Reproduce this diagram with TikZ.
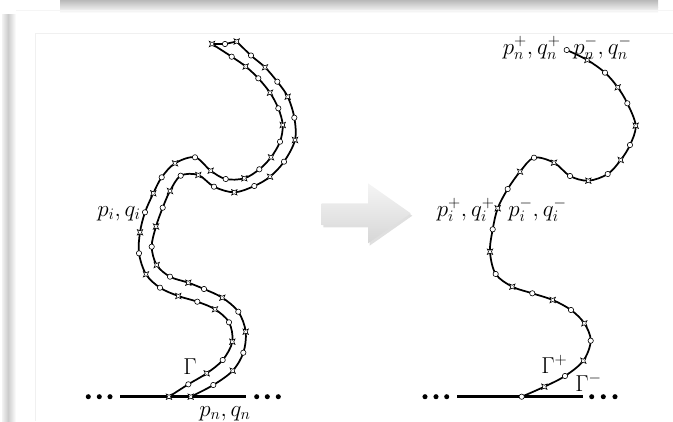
\documentclass[tikz,border=0pt]{standalone}
\usetikzlibrary{shadows}
\begin{document}
\begin{tikzpicture}[x=0.75pt,y=-0.75pt]
\tikzset{
 curve/.style={line width=1.3pt, line join=round},
 circmark/.style={circle, draw, fill=white, line width=0.45pt, inner sep=0pt, minimum size=4pt},
 starmark/.pic={\draw[fill=white, line width=0.45pt, line join=miter] (2.7,2.7) -- (0,1.5) -- (-2.7,2.7) -- (-1.5,0) -- (-2.7,-2.7) -- (0,-1.5) -- (2.7,-2.7) -- (1.5,0) -- cycle;},
 lab/.style={font=\fontsize{17}{20}\selectfont, inner sep=0pt},
 dotmark/.style={circle, fill, inner sep=0pt, minimum size=3.8pt},
 base/.style={line width=2.2pt},
}
\useasboundingbox (0,0) rectangle (673,421);
% screenshot frame artefacts
\shade[top color=gray!55, bottom color=gray!25] (60,0) rectangle (658,7);
\shade[top color=gray!25, bottom color=white] (60,7) rectangle (658,13);
\shade[left color=gray!10, right color=gray!40] (2,14) rectangle (8,421);
\shade[left color=gray!40, right color=white] (8,14) rectangle (16,421);
\draw[gray!12, line width=0.6pt] (35,421) -- (35,33) -- (673,33);
\draw[gray!8, line width=0.6pt] (16,10) -- (673,10);
% arrow
\path[top color=gray!8, bottom color=gray!32, drop shadow={opacity=0.25, shadow xshift=1.2pt, shadow yshift=-1.8pt}]
 (321.7,203.3) -- (368,203.3) -- (368,183.3) -- (410.7,213.3) -- (368,243.3) -- (368,225) -- (321.7,225) -- cycle;
% ---------- left picture ----------
\draw[base] (120,396.7) -- (245.7,396.7);
\foreach \x [count=\i] in {88.3,99.3,110,256.7,267.3,278.3} \node[dotmark] (ld\i) at (\x,396.7) {};
\draw[curve] plot[smooth, tension=0.55] coordinates {(212,44) (231.7,56.7) (245.7,66.5) (258.3,78.3) (270,92.7) (278.3,108.3) (282.7,125) (280,141.7) (271,157.3) (259.3,169.3) (244.3,178.3) (225.7,179) (210.7,170.7) (195,157.3) (175,163.3) (161.7,177.3) (153.3,193.3) (145,212.3) (140,232.3) (139,253.3) (146,274.3) (160,287.7) (178.3,296) (197.3,301.7) (215,309.3) (229,322.3) (232.3,341.7) (222.7,360) (206.7,373.3) (188.3,384.3) (169,396.7)};
\draw[curve] plot[smooth, tension=0.55] coordinates {(236.7,41.5) (251,55.5) (265,67.3) (277.3,81.7) (287.7,96.7) (294.3,117.7) (295,140) (284,161.7) (270,176.7) (254.3,186) (234.3,192.3) (214,186.7) (198.3,175) (180.7,175.7) (170,191) (162.7,207.7) (156,226.5) (151.7,246.7) (156.7,265) (170,276.7) (188.3,282.7) (204,289) (222.3,297.7) (238.3,311.7) (245.7,331.7) (243.3,352.7) (232.7,370.7) (213.3,385) (190.7,396.7)};
\draw[curve] (212,44) -- (225,44) -- (236.7,41.5);
\node[circmark] (top) at (225,44) {};
\foreach \p [count=\i] in {(212,44),(231.7,56.7),(245.7,66.5),(258.3,78.3),(270,92.7),(278.3,108.3),(282.7,125),(280,141.7),(271,157.3),(259.3,169.3),(244.3,178.3),(225.7,179),(210.7,170.7),(195,157.3),(175,163.3),(161.7,177.3),(153.3,193.3),(145,212.3),(140,232.3),(139,253.3),(146,274.3),(160,287.7),(178.3,296),(197.3,301.7),(215,309.3),(229,322.3),(232.3,341.7),(222.7,360),(206.7,373.3),(188.3,384.3),(169,396.7)}
 {\ifodd\i \pic at \p {starmark}; \else \node[circmark] (a\i) at \p {}; \fi}
\foreach \p [count=\i] in {(236.7,41.5),(251,55.5),(265,67.3),(277.3,81.7),(287.7,96.7),(294.3,117.7),(295,140),(284,161.7),(270,176.7),(254.3,186),(234.3,192.3),(214,186.7),(198.3,175),(180.7,175.7),(170,191),(162.7,207.7),(156,226.5),(151.7,246.7),(156.7,265),(170,276.7),(188.3,282.7),(204,289),(222.3,297.7),(238.3,311.7),(245.7,331.7),(243.3,352.7),(232.7,370.7),(213.3,385),(190.7,396.7)}
 {\ifodd\i \pic at \p {starmark}; \else \node[circmark] (b\i) at \p {}; \fi}
\node[lab, anchor=base east] (lpq) at (141,216) {$p_i,q_i$};
\node[lab, anchor=base] (lgam) at (190,374) {$\Gamma$};
\node[lab, anchor=base] (lpn) at (225,416) {$p_n,q_n$};
% ---------- right picture ----------
\draw[base] (457.3,396.7) -- (582.7,396.7);
\foreach \x [count=\i] in {425,436,446.7,591.7,603.3,615} \node[dotmark] (rd\i) at (\x,396.7) {};
\draw[curve] plot[smooth, tension=0.55] coordinates {(566.7,50) (587.3,60) (605,72.7) (617.7,87.3) (627.3,103.3) (635.7,125.7) (630,145) (620.7,160) (607.7,174) (588.3,180.7) (570,176) (554,162.7) (534,157.7) (520,171.7) (507.7,189) (497.7,208.3) (492.7,229.3) (490,251.7) (495.7,274) (512.3,286.7) (532.3,293.3) (552.7,300) (571,310) (584.3,323.3) (590.7,340.7) (583.3,360.7) (565,376) (544.3,386.7) (521.7,396.7)};
\foreach \p [count=\i] in {(566.7,50),(587.3,60),(605,72.7),(617.7,87.3),(627.3,103.3),(635.7,125.7),(630,145),(620.7,160),(607.7,174),(588.3,180.7),(570,176),(554,162.7),(534,157.7),(520,171.7),(507.7,189),(497.7,208.3),(492.7,229.3),(490,251.7),(495.7,274),(512.3,286.7),(532.3,293.3),(552.7,300),(571,310),(584.3,323.3),(590.7,340.7),(583.3,360.7),(565,376),(544.3,386.7),(521.7,396.7)}
 {\ifodd\i \node[circmark] (c\i) at \p {}; \else \pic at \p {starmark}; \fi}
\node[lab, anchor=base east] (rpnp) at (561,54) {$p_n^+,q_n^+$};
\node[lab, anchor=base west] (rpnm) at (573,54) {$p_n^-,q_n^-$};
\node[lab, anchor=base east] (rpip) at (495,216) {$p_i^+,q_i^+$};
\node[lab, anchor=base west] (rpim) at (508,216) {$p_i^-,q_i^-$};
\node[lab, anchor=base west] (rgp) at (541,373) {$\Gamma^+$};
\node[lab, anchor=base west] (rgm) at (575,391) {$\Gamma^-$};
\end{tikzpicture}
\end{document}
